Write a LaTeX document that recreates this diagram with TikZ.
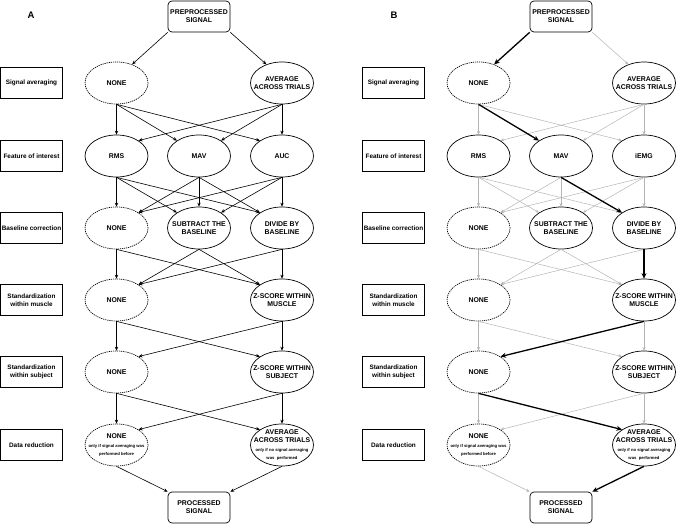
\documentclass[tikz,border=0pt]{standalone}
\usepackage{fontspec}
\setmainfont{Liberation Sans}
\usetikzlibrary{shapes.geometric,arrows.meta}
\definecolor{cgrey}{HTML}{B4B4B4}
\newcommand{\notefont}{\fontsize{4.2}{6.8}\selectfont}

\tikzset{
  stage/.style={draw, line width=0.6pt, minimum width=62, minimum height=31,
    inner sep=0pt, align=center, font=\fontsize{6.4}{7.6}\selectfont\bfseries},
  endbox/.style={draw, line width=0.7pt, rounded corners=4pt, minimum width=62,
    minimum height=31, inner sep=0pt, align=center,
    font=\fontsize{6.9}{8}\selectfont\bfseries},
  choice/.style={ellipse, draw, line width=0.7pt, minimum width=63,
    minimum height=42, inner sep=-7pt, align=center,
    font=\fontsize{6.9}{8}\selectfont\bfseries},
  nochoice/.style={choice, dash pattern=on 1.2pt off 0.9pt},
  tag/.style={font=\fontsize{9.5}{10}\selectfont\bfseries},
  arr/.style={line width=0.6pt, -{Stealth[length=4pt,width=3.4pt]}},
  faint/.style={cgrey, line width=0.5pt, -{Stealth[length=3.6pt,width=3pt]}},
  chosen/.style={line width=1.3pt, -{Stealth[length=5.5pt,width=5pt]}},
}

\begin{document}
\begin{tikzpicture}[x=1pt, y=-1pt]
  \useasboundingbox (0,0) rectangle (676,524);

  % ---------------- panel A ----------------
  \node[tag] (tagA) at (31,15.5) {A};
  \node[endbox] (Apre) at (199,16.5) {PREPROCESSED\\SIGNAL};
  \node[endbox] (Apost) at (199,507.5) {PROCESSED\\SIGNAL};

  \node[stage] (Al1) at (31.5,83) {Signal averaging};
  \node[stage] (Al2) at (31.5,156) {Feature of interest};
  \node[stage] (Al3) at (31.5,228) {Baseline correction};
  \node[stage] (Al4) at (31.5,300) {Standardization\\within muscle};
  \node[stage] (Al5) at (31.5,372) {Standardization\\within subject};
  \node[stage] (Al6) at (31.5,445) {Data reduction};

  \node[nochoice] (Asa0) at (116.5,83) {NONE};
  \node[choice] (Asa1) at (282,83) {AVERAGE\\ACROSS TRIALS};
  \node[choice] (Afi1) at (116.5,156) {RMS};
  \node[choice] (Afi2) at (199,156) {MAV};
  \node[choice] (Afi3) at (282,156) {AUC};
  \node[nochoice] (Abc1) at (116.5,228) {NONE};
  \node[choice] (Abc2) at (199,228) {SUBTRACT THE\\BASELINE};
  \node[choice] (Abc3) at (282,228) {DIVIDE BY\\BASELINE};
  \node[nochoice] (Asm0) at (116.5,300) {NONE};
  \node[choice] (Asm1) at (282,300) {Z-SCORE WITHIN\\MUSCLE};
  \node[nochoice] (Ass0) at (116.5,372) {NONE};
  \node[choice] (Ass1) at (282,372) {Z-SCORE WITHIN\\SUBJECT};
  \node[nochoice] (Adr0) at (116.5,445)
        {NONE\\[1.5pt]\notefont only if signal averaging was\\\notefont performed before};
  \node[choice] (Adr1) at (282,445)
        {AVERAGE\\ACROSS TRIALS\\[0.5pt]\notefont only if \textbf{no} signal averaging\\\notefont was\ \ performed};

  \path[arr] (Apre.south west) edge (Asa0.50) (Apre.south east) edge (Asa1.130)
    (Asa0.south) edge (Afi1.north) edge (Afi2.145) edge (Afi3.145)
    (Asa1.south) edge (Afi1.35) edge (Afi2.35) edge (Afi3.north)
    (Afi1.south) edge (Abc1.north) edge (Abc2.145) edge (Abc3.145)
    (Afi2.south) edge (Abc1.35) edge (Abc2.north) edge (Abc3.145)
    (Afi3.south) edge (Abc1.35) edge (Abc2.35) edge (Abc3.north)
    (Abc1.south) edge (Asm0.north) edge (Asm1.145)
    (Abc2.south) edge (Asm0.35) edge (Asm1.145)
    (Abc3.south) edge (Asm0.35) edge (Asm1.north)
    (Asm0.south) edge (Ass0.north) edge (Ass1.145)
    (Asm1.south) edge (Ass0.35) edge (Ass1.north)
    (Ass0.south) edge (Adr0.north) edge (Adr1.145)
    (Ass1.south) edge (Adr0.35) edge (Adr1.north)
    (Adr0.south) edge (Apost.north west) (Adr1.south) edge (Apost.north east);

  % ---------------- panel B ----------------
  \node[tag] (tagB) at (394,15.5) {B};
  \node[endbox] (Bpre) at (561,16.5) {PREPROCESSED\\SIGNAL};
  \node[endbox] (Bpost) at (561,507.5) {PROCESSED\\SIGNAL};

  \node[stage] (Bl1) at (393.5,83) {Signal averaging};
  \node[stage] (Bl2) at (393.5,156) {Feature of interest};
  \node[stage] (Bl3) at (393.5,228) {Baseline correction};
  \node[stage] (Bl4) at (393.5,300) {Standardization\\within muscle};
  \node[stage] (Bl5) at (393.5,372) {Standardization\\within subject};
  \node[stage] (Bl6) at (393.5,445) {Data reduction};

  \node[nochoice] (Bsa0) at (478.5,83) {NONE};
  \node[choice] (Bsa1) at (644,83) {AVERAGE\\ACROSS TRIALS};
  \node[choice] (Bfi1) at (478.5,156) {RMS};
  \node[choice] (Bfi2) at (561,156) {MAV};
  \node[choice] (Bfi3) at (644,156) {iEMG};
  \node[nochoice] (Bbc1) at (478.5,228) {NONE};
  \node[choice] (Bbc2) at (561,228) {SUBTRACT THE\\BASELINE};
  \node[choice] (Bbc3) at (644,228) {DIVIDE BY\\BASELINE};
  \node[nochoice] (Bsm0) at (478.5,300) {NONE};
  \node[choice] (Bsm1) at (644,300) {Z-SCORE WITHIN\\MUSCLE};
  \node[nochoice] (Bss0) at (478.5,372) {NONE};
  \node[choice] (Bss1) at (644,372) {Z-SCORE WITHIN\\SUBJECT};
  \node[nochoice] (Bdr0) at (478.5,445)
        {NONE\\[1.5pt]\notefont only if signal averaging was\\\notefont performed before};
  \node[choice] (Bdr1) at (644,445)
        {AVERAGE\\ACROSS TRIALS\\[0.5pt]\notefont only if \textbf{no} signal averaging\\\notefont was\ \ performed};

  % all options in grey
  \path[faint] (Bpre.south east) edge (Bsa1.130)
    (Bsa0.south) edge (Bfi1.north) edge (Bfi3.145)
    (Bsa1.south) edge (Bfi1.35) edge (Bfi2.35) edge (Bfi3.north)
    (Bfi1.south) edge (Bbc1.north) edge (Bbc2.145) edge (Bbc3.145)
    (Bfi2.south) edge (Bbc1.35) edge (Bbc2.north)
    (Bfi3.south) edge (Bbc1.35) edge (Bbc2.35) edge (Bbc3.north)
    (Bbc1.south) edge (Bsm0.north) edge (Bsm1.145)
    (Bbc2.south) edge (Bsm0.35) edge (Bsm1.145)
    (Bbc3.south) edge (Bsm0.35)
    (Bsm0.south) edge (Bss0.north) edge (Bss1.145)
    (Bsm1.south) edge (Bss1.north)
    (Bss0.south) edge (Bdr0.north)
    (Bss1.south) edge (Bdr0.35) edge (Bdr1.north)
    (Bdr0.south) edge (Bpost.north west);

  % the one path taken
  \path[chosen] (Bpre.south west) edge (Bsa0.50)
    (Bsa0.south) edge (Bfi2.145)
    (Bfi2.south) edge (Bbc3.145)
    (Bbc3.south) edge (Bsm1.north)
    (Bsm1.south) edge (Bss0.35)
    (Bss0.south) edge (Bdr1.145)
    (Bdr1.south) edge (Bpost.north east);
\end{tikzpicture}
\end{document}
